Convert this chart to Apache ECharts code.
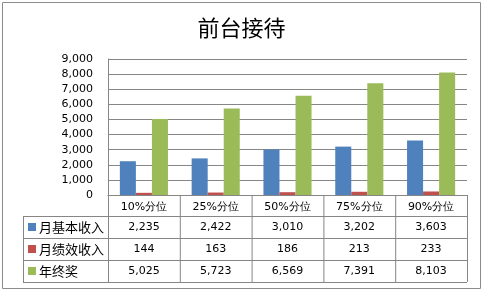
<!DOCTYPE html>
<html lang="zh">
  <head>
    <meta charset="UTF-8" />
    <title>前台接待</title>
    <script src="https://cdn.jsdelivr.net/npm/echarts@6/dist/echarts.min.js"></script>
    <style>
      body { margin: 0; background: #fff; }
      #main { width: 483px; height: 291px; }
    </style>
  </head>
  <body>
    <div id="main"></div>
    <script type="text/javascript">
      const categories = ["10%分位", "25%分位", "50%分位", "75%分位", "90%分位"];
      const seriesNames = ["月基本收入", "月绩效收入", "年终奖"];
      const baseIncome = [2235, 2422, 3010, 3202, 3603];
      const perfIncome = [144, 163, 186, 213, 233];
      const yearBonus = [5025, 5723, 6569, 7391, 8103];
      const colors = ["#4f81bd", "#c0504d", "#9bbb59"];

      const gridLeft = 108, gridRight = 467, gridTop = 59, gridBottom = 195;
      const tableLeft = 23;
      const rowEdges = [195, 216, 238, 260, 282];
      const lineColor = "#868686";
      const font = "'DejaVu Sans', sans-serif";

      const fmt = (v) => v.toLocaleString("en-US");
      const allData = [baseIncome, perfIncome, yearBonus];

      let myChart = echarts.init(document.getElementById("main"));

      let options = {
        animation: false,
        title: {
          text: "前台接待",
          left: "center",
          top: 12,
          textStyle: { fontFamily: "'Noto Sans CJK SC'", fontSize: 22, fontWeight: "normal", color: "#000" },
        },
        grid: { left: gridLeft, right: 483 - gridRight, top: gridTop, bottom: 291 - gridBottom },
        xAxis: {
          type: "category",
          data: categories,
          axisLine: { lineStyle: { color: lineColor } },
          axisTick: { show: false },
          axisLabel: { color: "#000", fontFamily: font, fontSize: 11, margin: 7 },
        },
        yAxis: {
          type: "value",
          min: 0,
          max: 9000,
          interval: 1000,
          axisLine: { show: true, lineStyle: { color: lineColor } },
          axisTick: { show: false },
          splitLine: { lineStyle: { color: lineColor } },
          axisLabel: { color: "#000", fontFamily: font, fontSize: 11, margin: 15, formatter: (v) => fmt(v) },
        },
        series: seriesNames.map((name, i) => ({
          name: name,
          type: "bar",
          data: allData[i],
          barGap: "0%",
          barCategoryGap: "33%",
          itemStyle: { color: colors[i] },
        })),
      };

      myChart.setOption(options);

      // data table under the chart
      const g = [];
      const hLine = (x1, x2, y) => g.push({ type: "line", shape: { x1, y1: y + 0.5, x2, y2: y + 0.5 }, style: { stroke: lineColor, lineWidth: 1 } });
      const vLine = (x, y1, y2) => g.push({ type: "line", shape: { x1: x + 0.5, y1, x2: x + 0.5, y2 }, style: { stroke: lineColor, lineWidth: 1 } });

      for (let r = 1; r < rowEdges.length; r++) hLine(tableLeft, gridRight, rowEdges[r]);
      vLine(tableLeft, rowEdges[1], rowEdges[4]);
      const step = (gridRight - gridLeft) / categories.length;
      for (let c = 0; c <= categories.length; c++) vLine(gridLeft + c * step, rowEdges[0], rowEdges[4]);

      seriesNames.forEach((name, i) => {
        const cy = (rowEdges[i + 1] + rowEdges[i + 2]) / 2;
        g.push({ type: "rect", shape: { x: 28, y: cy - 4, width: 8, height: 8 }, style: { fill: colors[i] } });
        g.push({ type: "text", x: 39, y: cy, style: { text: name, fill: "#000", font: "13px 'Noto Sans CJK SC'", verticalAlign: "middle" } });
        allData[i].forEach((v, j) => {
          const cx = myChart.convertToPixel({ xAxisIndex: 0 }, j);
          g.push({ type: "text", x: cx, y: cy, style: { text: fmt(v), fill: "#000", font: "11px " + font, align: "center", verticalAlign: "middle" } });
        });
      });

      // outer chart border
      g.push({ type: "rect", shape: { x: 2.5, y: 2.5, width: 478, height: 286 }, style: { fill: "none", stroke: "#8c8c8c", lineWidth: 1 } });

      myChart.setOption({ graphic: g });
    </script>
  </body>
</html>
